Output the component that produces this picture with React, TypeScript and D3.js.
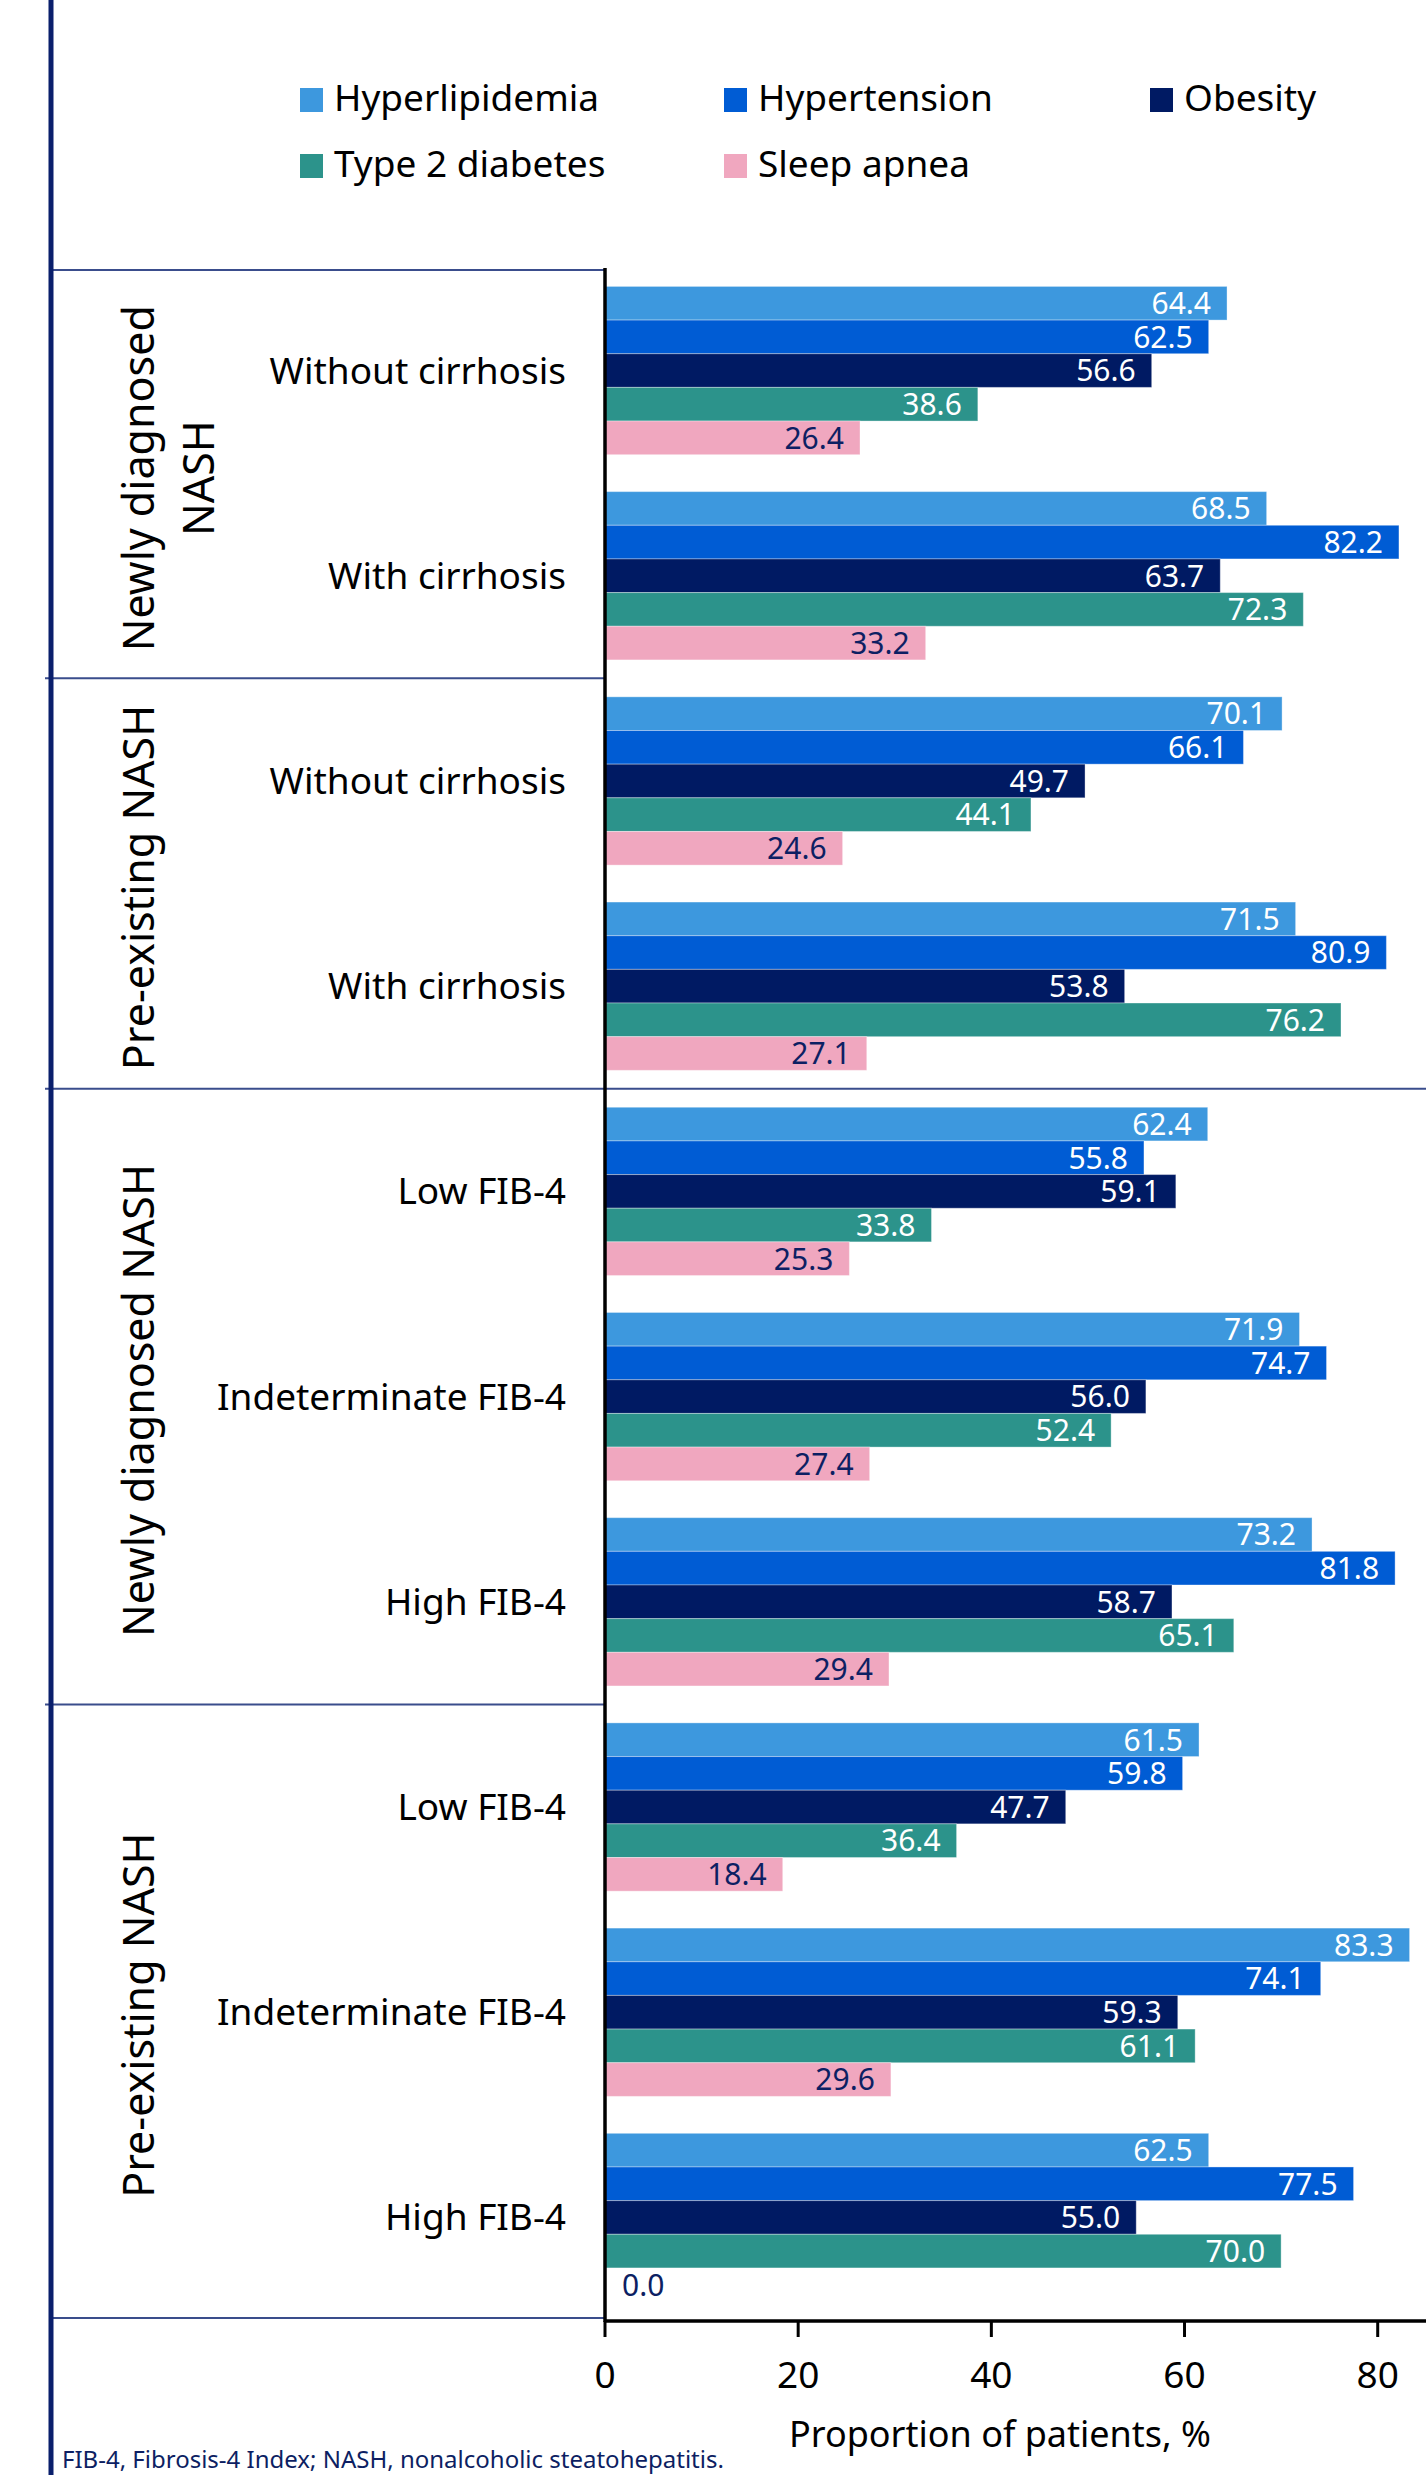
import React from "react";
import * as d3 from "d3";

const seriesNames = ["Hyperlipidemia", "Hypertension", "Obesity", "Type 2 diabetes", "Sleep apnea"];
const seriesColors = ["#3d98de", "#005cd4", "#001a63", "#2c938b", "#f0a7bf"];
const labelColors = ["#ffffff", "#ffffff", "#ffffff", "#ffffff", "#0d1f63"];

const groups = [
  { lines: ["Newly diagnosed", "NASH"], start: 0, end: 2 },
  { lines: ["Pre-existing NASH"], start: 2, end: 4 },
  { lines: ["Newly diagnosed NASH"], start: 4, end: 7 },
  { lines: ["Pre-existing NASH"], start: 7, end: 10 },
];

const categories = [
  "Without cirrhosis",
  "With cirrhosis",
  "Without cirrhosis",
  "With cirrhosis",
  "Low FIB-4",
  "Indeterminate FIB-4",
  "High FIB-4",
  "Low FIB-4",
  "Indeterminate FIB-4",
  "High FIB-4",
];

const hyperlipidemia = [64.4, 68.5, 70.1, 71.5, 62.4, 71.9, 73.2, 61.5, 83.3, 62.5];
const hypertension = [62.5, 82.2, 66.1, 80.9, 55.8, 74.7, 81.8, 59.8, 74.1, 77.5];
const obesity = [56.6, 63.7, 49.7, 53.8, 59.1, 56.0, 58.7, 47.7, 59.3, 55.0];
const type2Diabetes = [38.6, 72.3, 44.1, 76.2, 33.8, 52.4, 65.1, 36.4, 61.1, 70.0];
const sleepApnea = [26.4, 33.2, 24.6, 27.1, 25.3, 27.4, 29.4, 18.4, 29.6, 0.0];

const seriesValues = [hyperlipidemia, hypertension, obesity, type2Diabetes, sleepApnea];
const xTicks = [0, 20, 40, 60, 80];

const xTitle = "Proportion of patients, %";
const footnote = "FIB-4, Fibrosis-4 Index; NASH, nonalcoholic steatohepatitis.";

const W = 1426;
const H = 2475;
const FONT = "'Noto Sans', 'Open Sans', sans-serif";

export default function App() {
  const plotLeft = 605;
  const plotTop = 270;
  const plotBottom = 2318;
  const leftLineX = 51;

  const x = d3.scaleLinear().domain([0, 85]).range([plotLeft, W]);
  const idx = categories.map((_, i) => String(i));
  const y = d3
    .scaleBand<string>()
    .domain(idx)
    .range([plotTop, plotBottom])
    .paddingInner(0.18)
    .paddingOuter(0.08);
  const bw = y.bandwidth();
  const barH = bw / seriesNames.length;

  const boundary = (i: number) => {
    if (i <= 0) return plotTop;
    if (i >= categories.length) return plotBottom;
    const prevEnd = (y(String(i - 1)) as number) + bw;
    const next = y(String(i)) as number;
    return (prevEnd + next) / 2;
  };

  const labelPad = 16;
  const valueFont = 30;

  return (
    <svg
      width={W}
      height={H}
      viewBox={`0 0 ${W} ${H}`}
      style={{ position: "absolute", left: 0, top: 0, display: "block", background: "#fff" }}
      fontFamily={FONT}
    >
      <rect x={0} y={0} width={W} height={H} fill="#ffffff" />

      {/* Legend */}
      {seriesNames.map((name, i) => {
        const col = i % 3;
        const row = Math.floor(i / 3);
        const colX = [300, 724, 1150][col];
        const rowY = [88, 154][row];
        return (
          <g key={name}>
            <rect x={colX} y={rowY} width={23} height={24} fill={seriesColors[i]} />
            <text x={colX + 34} y={rowY + 23} fontSize={37} fill="#000">
              {name}
            </text>
          </g>
        );
      })}

      {/* Bars */}
      {categories.map((cat, ci) => {
        const y0 = y(String(ci)) as number;
        return (
          <g key={"c" + ci}>
            {seriesValues.map((vals, si) => {
              const v = vals[ci];
              const by = y0 + si * barH;
              const xe = x(v);
              const w = xe - x(0);
              const inside = w > 60;
              return (
                <g key={"b" + si}>
                  {w > 0 && (
                    <rect
                      x={x(0)}
                      y={by}
                      width={w}
                      height={barH}
                      fill={seriesColors[si]}
                      stroke="rgba(255,255,255,0.35)"
                      strokeWidth={1}
                    />
                  )}
                  <text
                    x={inside ? xe - labelPad : x(0) + 17}
                    y={by + barH / 2}
                    dy="0.36em"
                    textAnchor={inside ? "end" : "start"}
                    fontSize={valueFont}
                    fill={inside ? labelColors[si] : "#0d1f63"}
                  >
                    {v.toFixed(1)}
                  </text>
                </g>
              );
            })}
            <text
              x={566}
              y={y0 + bw / 2}
              dy="0.35em"
              textAnchor="end"
              fontSize={37}
              fill="#000"
            >
              {cat}
            </text>
          </g>
        );
      })}

      {/* Group labels */}
      {groups.map((g, gi) => {
        const top = boundary(g.start);
        const bot = boundary(g.end);
        const cy = (top + bot) / 2 + 4;
        return (
          <g key={"g" + gi} transform={`translate(154, ${cy}) rotate(-90)`}>
            {g.lines.map((ln, li) => (
              <text key={li} x={0} y={li * 60} textAnchor="middle" fontSize={43} fill="#000">
                {ln}
              </text>
            ))}
          </g>
        );
      })}

      {/* Group dividers */}
      {[0, 2, 4, 7, 10].map((b) => {
        const yy = boundary(b);
        const x1 = b === 0 || b === 10 ? leftLineX : 45;
        const x2 = b === 4 ? W : plotLeft;
        return (
          <line key={"d" + b} x1={x1} x2={x2} y1={yy} y2={yy} stroke="#3a4d8c" strokeWidth={2} />
        );
      })}

      {/* Left vertical line */}
      <line x1={leftLineX} x2={leftLineX} y1={0} y2={H} stroke="#0a1f6c" strokeWidth={5} />

      {/* Y axis line */}
      <line x1={plotLeft} x2={plotLeft} y1={plotTop - 2} y2={plotBottom + 4} stroke="#000" strokeWidth={3.5} />

      {/* X axis */}
      <line x1={plotLeft} x2={W} y1={plotBottom + 3} y2={plotBottom + 3} stroke="#000" strokeWidth={3.5} />
      {xTicks.map((t) => (
        <g key={"t" + t}>
          <line x1={x(t)} x2={x(t)} y1={plotBottom + 3} y2={plotBottom + 19} stroke="#000" strokeWidth={3} />
          <text x={x(t)} y={plotBottom + 70} textAnchor="middle" fontSize={37} fill="#000">
            {t}
          </text>
        </g>
      ))}
      <text x={1000} y={2447} textAnchor="middle" fontSize={36} fill="#000">
        {xTitle}
      </text>

      {/* Footnote */}
      <text x={62} y={2468} fontSize={24} fill="#0d1f63">
        {footnote}
      </text>
    </svg>
  );
}
